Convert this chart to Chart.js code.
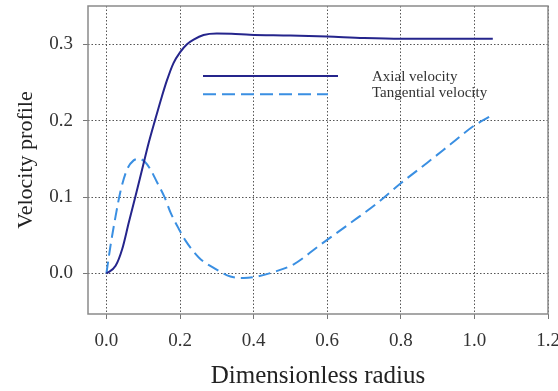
<!DOCTYPE html>
<html>
<head>
<meta charset="utf-8">
<script src="https://cdn.jsdelivr.net/npm/chart.js@4.4.1/dist/chart.umd.min.js"></script>
<style>
html,body{margin:0;padding:0;background:#fff;}
#wrap{width:558px;height:391px;}
</style>
</head>
<body>
<div id="wrap"><canvas id="c" width="558" height="391"></canvas></div>
<script>
// ---- data ----
const seriesNames = ['Axial velocity', 'Tangential velocity'];
const axialX = [0, 0.025, 0.043, 0.061, 0.079, 0.097, 0.115, 0.133, 0.151, 0.164, 0.182, 0.201, 0.219, 0.237, 0.264, 0.30, 0.34, 0.39, 0.50, 0.60, 0.70, 0.80, 0.90, 1.05];
const axialY = [0, 0.010, 0.032, 0.067, 0.101, 0.136, 0.171, 0.202, 0.232, 0.252, 0.275, 0.290, 0.300, 0.306, 0.312, 0.314, 0.3138, 0.3125, 0.3115, 0.310, 0.308, 0.307, 0.307, 0.307];
const tangX = [0, 0.011, 0.025, 0.038, 0.056, 0.074, 0.088, 0.105, 0.120, 0.138, 0.157, 0.175, 0.195, 0.215, 0.251, 0.296, 0.337, 0.373, 0.409, 0.455, 0.509, 0.577, 0.663, 0.736, 0.800, 0.872, 0.935, 0.998, 1.052];
const tangY = [0, 0.036, 0.075, 0.107, 0.136, 0.148, 0.150, 0.146, 0.136, 0.119, 0.101, 0.079, 0.060, 0.043, 0.021, 0.006, -0.004, -0.006, -0.004, 0.002, 0.012, 0.036, 0.066, 0.092, 0.118, 0.145, 0.169, 0.193, 0.208];
const xTicks = [0, 0.2, 0.4, 0.6, 0.8, 1.0, 1.2];
const yTicks = [0, 0.1, 0.2, 0.3];
const xTitle = 'Dimensionless radius';
const yTitle = 'Velocity profile';

const pts = (xs, ys) => xs.map((x, i) => ({x: x, y: ys[i]}));
const SERIF = "'Liberation Serif', 'Times New Roman', serif";
const colors = ['#25258c', '#3a8fe2'];
const dashes = [[], [12, 6]];

const frame = {
  id: 'frame',
  afterDatasetsDraw(chart) {
    const {ctx, chartArea: a} = chart;
    ctx.save();
    ctx.strokeStyle = '#8a8a8a';
    ctx.lineWidth = 1.5;
    ctx.strokeRect(a.left, a.top, a.right - a.left, a.bottom - a.top);
    // legend inside plot
    const lx0 = a.left + 115, ly0 = a.top + 70, lineGap = 18.3;
    const ends = [135, 125];
    seriesNames.forEach((name, i) => {
      const y = ly0 + i * lineGap;
      ctx.beginPath();
      ctx.strokeStyle = colors[i];
      ctx.lineWidth = 2;
      ctx.setLineDash(i === 1 ? [13, 6] : []);
      ctx.moveTo(lx0, y);
      ctx.lineTo(lx0 + ends[i], y);
      ctx.stroke();
      ctx.setLineDash([]);
      ctx.fillStyle = '#333';
      ctx.font = '15px ' + SERIF;
      ctx.textBaseline = 'middle';
      ctx.fillText(name, lx0 + 169, y + (i === 0 ? 1 : -1));
    });
    ctx.restore();
  }
};

const noPad = s => { s.paddingLeft = 0; s.paddingRight = 0; s.paddingTop = 0; s.paddingBottom = 0; };

new Chart(document.getElementById('c'), {
  type: 'scatter',
  data: {
    datasets: [
      {label: seriesNames[0], data: pts(axialX, axialY)},
      {label: seriesNames[1], data: pts(tangX, tangY)}
    ].map((d, i) => Object.assign(d, {
      showLine: true, borderColor: colors[i], backgroundColor: colors[i],
      borderWidth: 2, borderDash: dashes[i], pointRadius: 0, pointHoverRadius: 0,
      cubicInterpolationMode: 'monotone', fill: false
    }))
  },
  options: {
    responsive: false, animation: false,
    layout: {padding: {top: 6, right: 10, left: 0, bottom: 0}},
    plugins: {legend: {display: false}, tooltip: {enabled: false}},
    scales: {
      x: {
        type: 'linear', min: -0.05, max: 1.2,
        afterBuildTicks: s => { s.ticks = xTicks.map(v => ({value: v})); },
        afterFit: s => { s.height = 77; noPad(s); },
        ticks: {color: '#333', font: {family: SERIF, size: 19}, padding: 11,
                callback: v => Number(v).toFixed(1)},
        grid: {color: '#555', lineWidth: 1, tickLength: 5, tickColor: '#777', tickWidth: 1},
        border: {display: false, dash: [1.5, 2]},
        title: {display: true, text: xTitle, color: '#222',
                font: {family: SERIF, size: 25, lineHeight: 1.2}, padding: {top: 0, bottom: 0}}
      },
      y: {
        type: 'linear', min: -0.053, max: 0.35,
        afterBuildTicks: s => { s.ticks = yTicks.map(v => ({value: v})); },
        afterFit: s => { s.width = 88; noPad(s); },
        ticks: {color: '#333', font: {family: SERIF, size: 19}, padding: 10,
                callback: v => Number(v).toFixed(1)},
        grid: {color: '#555', lineWidth: 1, tickLength: 5, tickColor: '#777', tickWidth: 1},
        border: {display: false, dash: [1.5, 2]},
        title: {display: true, text: yTitle, color: '#222',
                font: {family: SERIF, size: 22, lineHeight: 1.2}, padding: {top: 13, bottom: 0}}
      }
    }
  },
  plugins: [frame]
});
</script>
</body>
</html>
